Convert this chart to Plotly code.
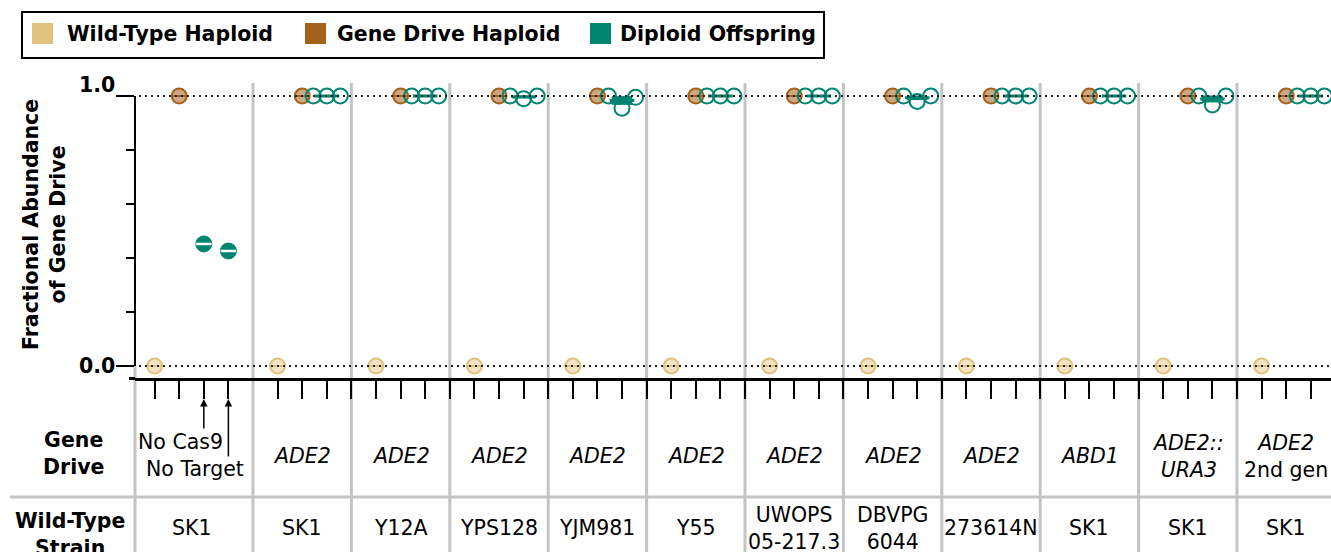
import plotly.graph_objects as go

# ---------------- data ----------------
panels = ["Control", "ADE2 SK1", "ADE2 Y12A", "ADE2 YPS128", "ADE2 YJM981", "ADE2 Y55",
          "ADE2 UWOPS", "ADE2 DBVPG", "ADE2 273614N", "ABD1 SK1", "ADE2::URA3 SK1", "ADE2 2nd gen SK1"]
gene_drive_labels = ["", "<i>ADE2</i>", "<i>ADE2</i>", "<i>ADE2</i>", "<i>ADE2</i>", "<i>ADE2</i>",
                     "<i>ADE2</i>", "<i>ADE2</i>", "<i>ADE2</i>", "<i>ABD1</i>",
                     "<i>ADE2::</i><br><i>URA3</i>", "<i>ADE2</i><br>2nd gen"]
control_labels = ["No Cas9", "No Target"]
wt_strains = ["SK1", "SK1", "Y12A", "YPS128", "YJM981", "Y55", "UWOPS<br>05-217.3",
              "DBVPG<br>6044", "273614N", "SK1", "SK1", "SK1"]
legend_names = ["Wild-Type Haploid", "Gene Drive Haploid", "Diploid Offspring"]

wt_haploid = [0.0, 0.0, 0.0, 0.0, 0.0, 0.0, 0.0, 0.0, 0.0, 0.0, 0.0, 0.0]
gd_haploid = [1.0, 1.0, 1.0, 1.0, 1.0, 1.0, 1.0, 1.0, 1.0, 1.0, 1.0, 1.0]
control_diploid = [0.452, 0.426]          # No Cas9, No Target (SK1)
# diploid replicates for panels 2..12
diploid_rep1 = [1.00, 1.00, 1.00, 1.000, 1.00, 1.00, 1.00, 1.00, 1.00, 1.000, 1.00]
diploid_rep2 = [1.00, 1.00, 0.99, 0.955, 1.00, 1.00, 0.98, 1.00, 1.00, 0.967, 1.00]
diploid_rep3 = [1.00, 1.00, 1.00, 0.995, 1.00, 1.00, 1.00, 1.00, 1.00, 1.000, 1.00]

# ---------------- style ----------------
C_WT = "#dfc27d"
C_GD = "#a6611a"
C_DI = "#018571"
GREY = "#c4c4c4"
FONT = "DejaVu Sans"
FS = 20.5

W, H = 1331, 552
PX_L, PX_T = 135, 83
PX_W, PX_H = W - PX_L, 295
SLOT0_PX, SLOT_PX = 154.6, 24.6
Y0_PX, Y1_PX = 366, 96
UNIT = Y0_PX - Y1_PX


def xpaper(px):
    return (px - PX_L) / PX_W


def ypaper(py):
    return (PX_T + PX_H - py) / PX_H


x_range = [(PX_L - SLOT0_PX) / SLOT_PX, (PX_L + PX_W - SLOT0_PX) / SLOT_PX]
y_range = [-(PX_T + PX_H - Y0_PX) / UNIT, 1 + (Y1_PX - PX_T) / UNIT]

n = len(panels)
wt_x = [0 if i == 0 else 4 * i + 1 for i in range(n)]
gd_x = [1 if i == 0 else 4 * i + 2 for i in range(n)]
ctrl_x = [2, 3]
di_center = [4 * i + 3 for i in range(1, n)]
offsets = [-0.55, 0.0, 0.55]

fig = go.Figure()

# haploids
for xs, ys, col, fill in [(wt_x, wt_haploid, C_WT, "rgba(223,194,125,0.45)"),
                          (gd_x, gd_haploid, C_GD, "rgba(166,97,26,0.55)")]:
    fig.add_trace(go.Scatter(x=xs, y=ys, mode="markers", showlegend=False, cliponaxis=False,
                             marker=dict(symbol="circle", size=15, color=fill,
                                         line=dict(color=col, width=2))))
    fig.add_trace(go.Scatter(x=xs, y=ys, mode="markers", showlegend=False, cliponaxis=False,
                             marker=dict(symbol="line-ew", size=11, line=dict(color=col, width=2))))

# control diploids
fig.add_trace(go.Scatter(x=ctrl_x, y=control_diploid, mode="markers", showlegend=False,
                         marker=dict(symbol="circle", size=16, color=C_DI,
                                     line=dict(color=C_DI, width=1))))
fig.add_trace(go.Scatter(x=ctrl_x, y=control_diploid, mode="markers", showlegend=False,
                         marker=dict(symbol="line-ew", size=11, line=dict(color="white", width=2.5))))

# diploid replicates, mean and SEM box
rx, ry = [], []
for k, c in enumerate(di_center):
    reps = [diploid_rep1[k], diploid_rep2[k], diploid_rep3[k]]
    for o, v in zip(offsets, reps):
        rx.append(c + o)
        ry.append(v)
    m = sum(reps) / 3
    sd = (sum((v - m) ** 2 for v in reps) / 2) ** 0.5
    sem = sd / 3 ** 0.5
    if sem > 0:
        fig.add_trace(go.Scatter(x=[c - 0.4, c + 0.4, c + 0.4, c - 0.4, c - 0.4],
                                 y=[m - sem, m - sem, m + sem, m + sem, m - sem],
                                 mode="lines", fill="toself", fillcolor=C_DI,
                                 line=dict(color=C_DI, width=1), showlegend=False))
    fig.add_trace(go.Scatter(x=[c - 0.5, c + 0.5], y=[m, m], mode="lines",
                             line=dict(color=C_DI, width=3), showlegend=False))
fig.add_trace(go.Scatter(x=rx, y=ry, mode="markers", showlegend=False, cliponaxis=False,
                         marker=dict(symbol="circle", size=15, color="rgba(0,0,0,0)",
                                     line=dict(color=C_DI, width=2))))

shapes = []
ann = []


def label(text, x, y, xref="paper", yref="paper", **kw):
    d = dict(text=text, x=x, y=y, xref=xref, yref=yref, showarrow=False,
             xanchor="center", yanchor="middle", font=dict(size=FS))
    d.update(kw)
    ann.append(d)


# manual legend (box, swatches, labels)
shapes.append(dict(type="rect", xref="paper", yref="paper", x0=xpaper(22), x1=xpaper(824),
                   y0=ypaper(58), y1=ypaper(12), line=dict(color="black", width=2),
                   fillcolor="white"))
for name, col, sx, tx in zip(legend_names, [C_WT, C_GD, C_DI], [32, 305, 590], [65, 335, 618]):
    shapes.append(dict(type="rect", xref="paper", yref="paper", x0=xpaper(sx), x1=xpaper(sx + 21),
                       y0=ypaper(44), y1=ypaper(23), line=dict(width=0), fillcolor=col))
    label("<b>" + name + "</b>", xpaper(tx), ypaper(33.5), xanchor="left")

# panel separators
for i in range(1, n):
    shapes.append(dict(type="line", xref="x", yref="paper", x0=4 * i, x1=4 * i,
                       y0=ypaper(H), y1=1, line=dict(color=GREY, width=3), layer="below"))
shapes.append(dict(type="line", xref="paper", yref="paper", x0=0, x1=0,
                   y0=ypaper(Y0_PX), y1=ypaper(H), line=dict(color=GREY, width=3), layer="below"))
# table row divider
shapes.append(dict(type="line", xref="paper", yref="paper", x0=xpaper(10), x1=1,
                   y0=ypaper(497), y1=ypaper(497), line=dict(color=GREY, width=3)))
# dotted reference lines
for yv in (0, 1):
    shapes.append(dict(type="line", xref="paper", yref="y", x0=xpaper(139), x1=1, y0=yv, y1=yv,
                       line=dict(color="#222222", width=2, dash="2px,4px"), layer="above"))
# y axis line
shapes.append(dict(type="line", xref="paper", yref="y", x0=0, x1=0, y0=0, y1=1,
                   line=dict(color="black", width=2), layer="above"))
# x axis line extension to the left
shapes.append(dict(type="line", xref="paper", yref="paper", x0=xpaper(129), x1=0,
                   y0=ypaper(378.5), y1=ypaper(378.5), line=dict(color="black", width=3)))

label("<b>1.0</b>", xpaper(117), 1, yref="y", yshift=11, xanchor="right")
label("<b>0.0</b>", xpaper(117), 0, yref="y", xanchor="right")
label("<b>Fractional Abundance<br>of Gene Drive</b>", xpaper(44), ypaper(225), textangle=-90)
label("<b>Gene<br>Drive</b>", xpaper(73), ypaper(453))
label("<b>Wild-Type<br>Strain</b>", xpaper(70), ypaper(534))
for i in range(1, n):
    label(gene_drive_labels[i], 4 * i + 2, ypaper(456), xref="x")
for i in range(n):
    if i == 0:
        label(wt_strains[i], xpaper(192), ypaper(528))
    else:
        label(wt_strains[i], 4 * i + 2, ypaper(528), xref="x")
label(control_labels[0], xpaper(180), ypaper(442))
label(control_labels[1], xpaper(195), ypaper(469))
for cx, tail in zip(ctrl_x, (430, 458)):
    ann.append(dict(text="", xref="x", yref="paper", x=cx, y=ypaper(399), ax=0, ay=tail - 399,
                    showarrow=True, arrowhead=2, arrowsize=1, arrowwidth=1.5, arrowcolor="black",
                    standoff=0))

fig.update_layout(
    width=W, height=H, showlegend=False,
    margin=dict(l=PX_L, r=W - PX_L - PX_W, t=PX_T, b=H - PX_T - PX_H, pad=0, autoexpand=False),
    paper_bgcolor="white", plot_bgcolor="rgba(0,0,0,0)",
    font=dict(family=FONT, size=FS, color="black"),
    xaxis=dict(range=x_range, showgrid=False, zeroline=False, showline=True, linecolor="black",
               linewidth=3, ticks="outside", ticklen=18, tickwidth=2, tickcolor="black",
               tickmode="array", tickvals=[p for p in range(0, 48) if p != 4], showticklabels=False,
               fixedrange=True),
    yaxis=dict(range=y_range, showgrid=False, zeroline=False, showline=False, ticks="outside",
               ticklen=18, tickwidth=2, tickcolor="black", tickmode="array", tickvals=[0, 1],
               showticklabels=False, fixedrange=True,
               minor=dict(tickmode="array", tickvals=[0.2, 0.4, 0.6, 0.8], ticks="outside",
                          ticklen=8, tickwidth=2, tickcolor="black")),
    shapes=shapes, annotations=ann,
)

fig.write_html("out.html", config={"displayModeBar": False},
               post_script="document.body.style.margin='0';")
